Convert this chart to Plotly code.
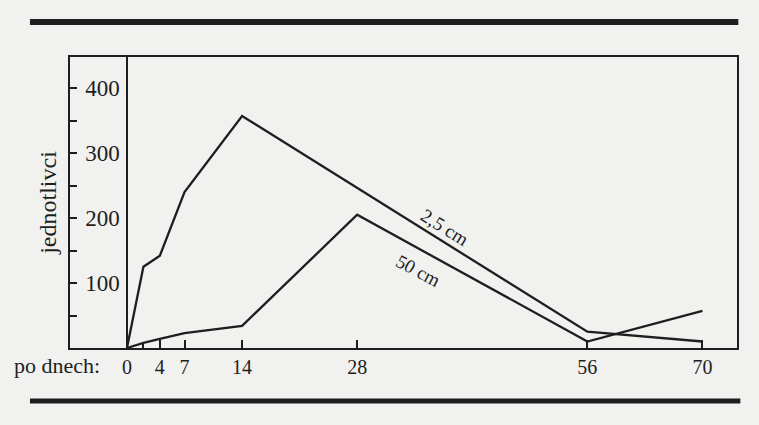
import plotly.graph_objects as go

# days and counts
days_25 = [0, 2, 4, 7, 14, 56, 70]
count_25 = [0, 125, 142, 240, 357, 25, 10]
days_50 = [0, 2, 4, 7, 14, 28, 56, 70]
count_50 = [0, 8, 14, 23, 34, 205, 10, 57]

x_ticks = [0, 4, 7, 14, 28, 56, 70]
y_ticks = [100, 200, 300, 400]
y_minor = [50, 150, 250, 350]

ink = "#1e1e1e"
paper = "#f1f1ef"
font = "Liberation Serif"

fig = go.Figure()
fig.add_trace(go.Scatter(x=days_25, y=count_25, mode="lines", name="2,5 cm",
                         line=dict(color=ink, width=2.3)))
fig.add_trace(go.Scatter(x=days_50, y=count_50, mode="lines", name="50 cm",
                         line=dict(color=ink, width=2.3)))

fig.add_annotation(x=38.7, y=186, text="2,5 cm", showarrow=False, textangle=32,
                   font=dict(family=font, size=19, color=ink))
fig.add_annotation(x=35.4, y=120, text="50 cm", showarrow=False, textangle=28,
                   font=dict(family=font, size=19, color=ink))
fig.add_annotation(xref="paper", yref="paper", x=0.048, y=-0.06, xanchor="right",
                   yanchor="middle", text="po dnech:", showarrow=False,
                   font=dict(family=font, size=22, color=ink))

# thick rules above and below the chart
fig.add_shape(type="line", xref="paper", yref="paper", x0=-0.06, x1=1.002,
              y0=1.12, y1=1.12, line=dict(color=ink, width=6))
fig.add_shape(type="line", xref="paper", yref="paper", x0=-0.06, x1=1.005,
              y0=-0.182, y1=-0.182, line=dict(color=ink, width=5))

fig.update_layout(
    width=759, height=425,
    margin=dict(l=70, r=22, t=57, b=77),
    paper_bgcolor=paper, plot_bgcolor=paper,
    showlegend=False,
    font=dict(family=font, color=ink),
)
fig.update_xaxes(
    range=[-6.93, 74.2], tickvals=x_ticks, ticks="inside", ticklen=8,
    tickcolor=ink, tickwidth=1.5, showgrid=False,
    showline=True, linecolor=ink, linewidth=1.6, mirror=True,
    zeroline=True, zerolinecolor=ink, zerolinewidth=1.6,
    tickfont=dict(family=font, size=20, color=ink),
    minor=dict(tickvals=[2], ticks="inside", ticklen=5, tickcolor=ink),
)
fig.update_yaxes(
    range=[0, 447.7], tickvals=y_ticks, ticks="inside", ticklen=7,
    tickcolor=ink, tickwidth=1.5, showgrid=False, zeroline=False,
    showline=True, linecolor=ink, linewidth=1.6, mirror=True,
    ticklabelposition="inside", ticklabelstandoff=10,
    tickfont=dict(family=font, size=23, color=ink),
    title=dict(text="jednotlivci", font=dict(family=font, size=24, color=ink),
               standoff=22),
    minor=dict(tickvals=y_minor, ticks="inside", ticklen=7, tickcolor=ink),
)

# page has a default 8px body margin; drop it so the figure fills the window
fig.write_html("out.html", config={"displayModeBar": False},
               post_script="document.body.style.margin='0';"
                           "document.body.style.background='%s';" % paper)
